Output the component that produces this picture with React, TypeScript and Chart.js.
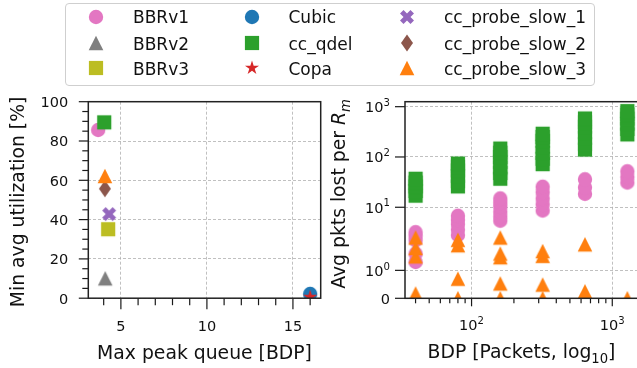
import React, { useEffect, useRef } from 'react';
import { Chart, registerables, LinearScale } from 'chart.js';

Chart.register(...registerables);

// ---------------- data ----------------
const SERIES = ['BBRv1', 'BBRv2', 'BBRv3', 'Cubic', 'cc_qdel', 'Copa', 'cc_probe_slow_1', 'cc_probe_slow_2', 'cc_probe_slow_3'];
const COLORS = ['#e377c2', '#7f7f7f', '#bcbd22', '#1f77b4', '#2ca02c', '#d62728', '#9467bd', '#8c564b', '#ff7f0e'];
const MARKERS = ['circle', 'triangle', 'square', 'circle', 'square', 'star', 'xfilled', 'thindiamond', 'triangle'];

const MAX_PEAK_QUEUE = [3.68, 4.09, 4.26, 16.0, 4.03, 16.0, 4.32, 4.07, 4.07];
const MIN_AVG_UTIL = [85.6, 10.1, 35.1, 2.2, 89.5, 0.6, 42.8, 55.7, 62.2];

const LEFT_X_TICKS = [4, 5, 6, 7, 8, 9, 10, 11, 12, 13, 14, 15, 16];
const LEFT_X_LABELED = [5, 10, 15];
const LEFT_Y_TICKS = [0, 5, 10, 15, 20, 25, 30, 35, 40, 45, 50, 55, 60, 65, 70, 75, 80, 85, 90, 95, 100];
const LEFT_Y_LABELED = [0, 20, 40, 60, 80, 100];

const BDP_PACKETS = [40, 80, 160, 320, 640, 1280];
const LOSS_CC_QDEL = [
  [17, 21, 26, 31, 37],
  [26, 33, 42, 54, 64, 74],
  [37, 48, 62, 80, 100, 122, 147],
  [72, 92, 120, 160, 210, 250, 290],
  [140, 180, 240, 310, 400, 490, 583],
  [281, 360, 460, 580, 700, 818],
];
const LOSS_BBRV1 = [
  [1.3, 1.6, 2.2, 2.7, 3.2],
  [2.8, 3.6, 4.6, 5.6, 6.8],
  [5.4, 6.6, 8.2, 10.5, 12.5, 15],
  [8.6, 11.5, 15, 20, 25.6],
  [18.5, 25, 36],
  [31, 40, 52],
];
const LOSS_PROBE_SLOW_3 = [
  [0.17, 1.5, 1.8, 2.5],
  [0, 0.7, 1.9, 2.25],
  [0, 0.53, 1.47, 1.6, 2.5],
  [0, 0.49, 1.52, 1.69],
  [0.25, 1.93],
  [0],
];

const RIGHT_X_TICKS = [40, 50, 60, 70, 80, 90, 100, 200, 300, 400, 500, 600, 700, 800, 900, 1000];
const RIGHT_X_LABELED = [100, 1000];
const RIGHT_X_LABEL_BASE = ['10', '10'];
const RIGHT_X_LABEL_EXP = ['2', '3'];
const RIGHT_Y_TICKS = [0, 1, 10, 100, 1000];
const RIGHT_Y_LABEL_BASE = ['0', '10', '10', '10', '10'];
const RIGHT_Y_LABEL_EXP = ['', '0', '1', '2', '3'];

// ---------------- styling ----------------
const FONT = "'DejaVu Sans', sans-serif";
const TEXT = '#111111';
const GRID = '#b0b0b0';
const NONE = 'rgba(0,0,0,0)';
const TICK_SIZE = 14.5;
const TITLE_SIZE = 18.8;

// ---------------- symlog scale (linthresh 2, linscale 1) ----------------
const LINTHRESH = 2;
const LINSCALE_ADJ = 1 / (1 - 1 / 10);
function symT(v: number) {
  const a = Math.abs(v);
  if (a <= LINTHRESH) return v * LINSCALE_ADJ;
  return Math.sign(v) * LINTHRESH * (LINSCALE_ADJ + Math.log10(a / LINTHRESH));
}
function symInv(t: number) {
  const a = Math.abs(t);
  if (a <= LINTHRESH * LINSCALE_ADJ) return t / LINSCALE_ADJ;
  return Math.sign(t) * LINTHRESH * Math.pow(10, a / LINTHRESH - LINSCALE_ADJ);
}

class SymLogScale extends (LinearScale as any) {
  static id = 'symlog';
  static defaults = {};
  determineDataLimits() {
    const o: any = this.options;
    this.min = o.min;
    this.max = o.max;
  }
  buildTicks() {
    return [];
  }
  configure() {
    super.configure();
    this._tMin = symT(this.min);
    this._tMax = symT(this.max);
  }
  getPixelForValue(v: number) {
    return this.getPixelForDecimal((symT(v) - this._tMin) / (this._tMax - this._tMin));
  }
  getValueForPixel(p: number) {
    return symInv(this._tMin + this.getDecimalForPixel(p) * (this._tMax - this._tMin));
  }
}
Chart.register(SymLogScale as any);

// ---------------- markers ----------------
function poly(pts: number[][]) {
  return 'M ' + pts.map((p) => p[0].toFixed(3) + ' ' + p[1].toFixed(3)).join(' L ') + ' Z';
}
function markerPath(shape: string): string {
  switch (shape) {
    case 'circle': {
      const r = 7.2;
      return `M ${r} 0 A ${r} ${r} 0 1 1 ${-r} 0 A ${r} ${r} 0 1 1 ${r} 0 Z`;
    }
    case 'square': {
      const s = 7.1;
      return poly([[-s, -s], [s, -s], [s, s], [-s, s]]);
    }
    case 'triangle': {
      const h = 7.3;
      return poly([[0, -h], [h, h], [-h, h]]);
    }
    case 'thindiamond':
      return poly([[0, -8.6], [6, 0], [0, 8.6], [-6, 0]]);
    case 'xfilled': {
      const u = 14.8 / 6;
      const base = [[-1, -3], [1, -3], [1, -1], [3, -1], [3, 1], [1, 1], [1, 3], [-1, 3], [-1, 1], [-3, 1], [-3, -1], [-1, -1]];
      const c = Math.SQRT1_2;
      return poly(base.map(([x, y]) => [(x - y) * c * u, (x + y) * c * u]));
    }
    case 'star': {
      const R = 7.4;
      const pts: number[][] = [];
      for (let k = 0; k < 10; k++) {
        const r = k % 2 ? R * 0.381966 : R;
        const ang = -Math.PI / 2 + (k * Math.PI) / 5;
        pts.push([r * Math.cos(ang), r * Math.sin(ang)]);
      }
      return poly(pts);
    }
  }
  return '';
}
function markerCanvas(shape: string, color: string) {
  const c = document.createElement('canvas');
  c.width = 24;
  c.height = 24;
  const ctx = c.getContext('2d')!;
  ctx.translate(12, 12);
  ctx.fillStyle = color;
  ctx.fill(new Path2D(markerPath(shape)));
  return c;
}

// ---------------- rich text + frame/tick plugin ----------------
type Part = { text: string; italic?: boolean; sub?: boolean; sup?: boolean };
// align: 'center' | 'right'
function drawRich(ctx: CanvasRenderingContext2D, parts: Part[], x: number, y: number, rotate: boolean, size: number, align = 'center') {
  ctx.save();
  ctx.translate(x, y);
  if (rotate) ctx.rotate(-Math.PI / 2);
  ctx.fillStyle = TEXT;
  ctx.textBaseline = 'alphabetic';
  ctx.textAlign = 'left';
  const fontOf = (p: Part) => `${p.italic ? 'italic ' : ''}${p.sub || p.sup ? size * 0.7 : size}px ${FONT}`;
  const widths = parts.map((p) => {
    ctx.font = fontOf(p);
    return ctx.measureText(p.text).width;
  });
  const total = widths.reduce((s, w) => s + w, 0);
  let cx = align === 'right' ? -total : -total / 2;
  parts.forEach((p, i) => {
    ctx.font = fontOf(p);
    const dy = p.sub ? size * 0.24 : p.sup ? -size * 0.42 : 0;
    ctx.fillText(p.text, cx, dy);
    cx += widths[i];
  });
  ctx.restore();
}

function makeFramePlugin(cfg: any) {
  return {
    id: 'axesFrame',
    afterDraw(chart: any) {
      const ctx = chart.ctx as CanvasRenderingContext2D;
      const a = chart.chartArea;
      const xs = chart.scales.x;
      const ys = chart.scales.y;
      ctx.save();
      ctx.strokeStyle = '#1a1a1a';
      ctx.lineWidth = 1.2;
      for (const t of xs.ticks) {
        const p = xs.getPixelForValue(t.value);
        const len = cfg.xIsMajor(t.value) ? cfg.xMajor : cfg.xMinor;
        ctx.beginPath();
        ctx.moveTo(p, a.bottom);
        ctx.lineTo(p, a.bottom + len);
        ctx.stroke();
      }
      for (const t of ys.ticks) {
        const p = ys.getPixelForValue(t.value);
        const len = cfg.yIsMajor(t.value) ? cfg.yMajor : cfg.yMinor;
        ctx.beginPath();
        ctx.moveTo(a.left - len, p);
        ctx.lineTo(a.left, p);
        ctx.stroke();
      }
      ctx.lineWidth = 1.5;
      ctx.strokeStyle = '#222222';
      ctx.strokeRect(a.left, a.top, a.right - a.left, a.bottom - a.top);
      for (const L of cfg.xLabels) {
        drawRich(ctx, L.parts, xs.getPixelForValue(L.value), a.bottom + cfg.xLabelBaseline, false, TICK_SIZE, 'center');
      }
      for (const L of cfg.yLabels) {
        drawRich(ctx, L.parts, a.left - cfg.yLabelPad, ys.getPixelForValue(L.value) + 5.3, false, TICK_SIZE, 'right');
      }
      for (const tt of cfg.titles) {
        drawRich(ctx, tt.parts, tt.x(a), tt.y(a), tt.rotate, TITLE_SIZE, 'center');
      }
      ctx.restore();
    },
  };
}

function gridColor(labeled: number[] | null) {
  return (c: any) => (c.tick && (!labeled || labeled.includes(c.tick.value)) ? GRID : NONE);
}

export default function App() {
  const leftRef = useRef<HTMLCanvasElement>(null);
  const rightRef = useRef<HTMLCanvasElement>(null);

  useEffect(() => {
    const images = SERIES.map((_, i) => markerCanvas(MARKERS[i], COLORS[i]));

    const left = new Chart(leftRef.current!, {
      type: 'scatter',
      data: {
        datasets: SERIES.map((name, i) => ({
          label: name,
          data: [{ x: MAX_PEAK_QUEUE[i], y: MIN_AVG_UTIL[i] }],
          pointStyle: images[i] as any,
          pointRadius: 7,
          pointHoverRadius: 7,
          backgroundColor: COLORS[i],
          borderColor: COLORS[i],
          order: SERIES.length - i,
          clip: 0,
        })),
      },
      options: {
        responsive: false,
        animation: false,
        events: [],
        layout: { autoPadding: false, padding: { left: 0, top: 101.7, right: 9.3, bottom: 0 } },
        plugins: { legend: { display: false }, tooltip: { enabled: false } },
        scales: {
          x: {
            type: 'linear',
            bounds: 'data',
            min: 3.106,
            max: 16.614,
            afterBuildTicks: (s: any) => {
              s.ticks = LEFT_X_TICKS.map((v) => ({ value: v }));
            },
            afterFit: (s: any) => {
              s.height = 368 - 298.2;
            },
            ticks: { display: false, autoSkip: false },
            grid: { drawTicks: false, lineWidth: 0.8, color: gridColor(LEFT_X_LABELED) },
            border: { display: false, dash: [3, 2] },
          },
          y: {
            type: 'linear',
            bounds: 'data',
            min: 0,
            max: 100,
            afterBuildTicks: (s: any) => {
              s.ticks = LEFT_Y_TICKS.map((v) => ({ value: v }));
            },
            afterFit: (s: any) => {
              s.width = 88.3;
            },
            ticks: { display: false, autoSkip: false },
            grid: { drawTicks: false, lineWidth: 0.8, color: gridColor(LEFT_Y_LABELED) },
            border: { display: false, dash: [3, 2] },
          },
        },
      } as any,
      plugins: [
        makeFramePlugin({
          xMajor: 11,
          xMinor: 7,
          yMajor: 9.5,
          yMinor: 6,
          xIsMajor: (v: number) => LEFT_X_LABELED.includes(v),
          yIsMajor: (v: number) => LEFT_Y_LABELED.includes(v),
          xLabelBaseline: 32.3,
          yLabelPad: 20,
          xLabels: LEFT_X_LABELED.map((v) => ({ value: v, parts: [{ text: String(v) }] })),
          yLabels: LEFT_Y_LABELED.map((v) => ({ value: v, parts: [{ text: String(v) }] })),
          titles: [
            {
              parts: [{ text: 'Max peak queue [BDP]' }],
              x: (a: any) => (a.left + a.right) / 2,
              y: () => 359.3,
              rotate: false,
            },
            {
              parts: [{ text: 'Min avg utilization [%]' }],
              x: () => 24.2,
              y: (a: any) => (a.top + a.bottom) / 2 + 2,
              rotate: true,
            },
          ],
        }),
      ],
    });

    const rightSeries = [
      { idx: 4, values: LOSS_CC_QDEL },
      { idx: 0, values: LOSS_BBRV1 },
      { idx: 8, values: LOSS_PROBE_SLOW_3 },
    ];

    const right = new Chart(rightRef.current!, {
      type: 'scatter',
      data: {
        datasets: rightSeries.map((s, k) => ({
          label: SERIES[s.idx],
          data: s.values.flatMap((vals, j) => vals.map((v) => ({ x: BDP_PACKETS[j], y: v }))),
          pointStyle: images[s.idx] as any,
          pointRadius: 7,
          pointHoverRadius: 7,
          backgroundColor: COLORS[s.idx],
          borderColor: COLORS[s.idx],
          order: rightSeries.length - k,
          clip: 0,
        })),
      },
      options: {
        responsive: false,
        animation: false,
        events: [],
        layout: { autoPadding: false, padding: { left: 0, top: 101.7, right: 320 - 307.9, bottom: 0 } },
        plugins: { legend: { display: false }, tooltip: { enabled: false } },
        scales: {
          x: {
            type: 'logarithmic',
            bounds: 'data',
            min: 33.65,
            max: 1521,
            afterBuildTicks: (s: any) => {
              s.ticks = RIGHT_X_TICKS.map((v) => ({ value: v }));
            },
            afterFit: (s: any) => {
              s.height = 368 - 298.3;
            },
            ticks: { display: false, autoSkip: false },
            grid: { drawTicks: false, lineWidth: 0.8, color: gridColor(RIGHT_X_LABELED) },
            border: { display: false, dash: [3, 2] },
          },
          y: {
            type: 'symlog',
            min: 0,
            max: 1256,
            afterBuildTicks: (s: any) => {
              s.ticks = RIGHT_Y_TICKS.map((v) => ({ value: v }));
            },
            afterFit: (s: any) => {
              s.width = 75;
            },
            ticks: { display: false, autoSkip: false },
            grid: { drawTicks: false, lineWidth: 0.8, color: gridColor(null) },
            border: { display: false, dash: [3, 2] },
          },
        },
      } as any,
      plugins: [
        makeFramePlugin({
          xMajor: 8,
          xMinor: 5,
          yMajor: 10,
          yMinor: 5,
          xIsMajor: (v: number) => RIGHT_X_LABELED.includes(v),
          yIsMajor: () => true,
          xLabelBaseline: 31.7,
          yLabelPad: 15,
          xLabels: RIGHT_X_LABELED.map((v, i) => ({
            value: v,
            parts: [{ text: RIGHT_X_LABEL_BASE[i] }, { text: RIGHT_X_LABEL_EXP[i], sup: true }],
          })),
          yLabels: RIGHT_Y_TICKS.map((v, i) => ({
            value: v,
            parts: RIGHT_Y_LABEL_EXP[i]
              ? [{ text: RIGHT_Y_LABEL_BASE[i] }, { text: RIGHT_Y_LABEL_EXP[i], sup: true }]
              : [{ text: RIGHT_Y_LABEL_BASE[i] }],
          })),
          titles: [
            {
              parts: [{ text: 'BDP [Packets, log' }, { text: '10', sub: true }, { text: ']' }],
              x: (a: any) => (a.left + a.right) / 2,
              y: () => 358.3,
              rotate: false,
            },
            {
              parts: [{ text: 'Avg pkts lost per ' }, { text: 'R', italic: true }, { text: 'm', italic: true, sub: true }],
              x: () => 15.2,
              y: (a: any) => (a.top + a.bottom) / 2 - 6,
              rotate: true,
            },
          ],
        }),
      ],
    });

    return () => {
      left.destroy();
      right.destroy();
    };
  }, []);

  const colX = [96, 252, 407];
  const textX = [133, 288.5, 444];
  const rowY = [16.7, 43.3, 68.3];

  return (
    <div style={{ position: 'absolute', left: 0, top: 0, width: 637, height: 368, overflow: 'hidden', background: '#ffffff' }}>
      <canvas ref={leftRef} width={330} height={368} style={{ position: 'absolute', left: 0, top: 0 }} />
      <canvas ref={rightRef} width={320} height={368} style={{ position: 'absolute', left: 330, top: 0 }} />
      <div
        style={{
          position: 'absolute',
          left: 65,
          top: 3,
          width: 530,
          height: 82.5,
          border: '1.5px solid #cfcfcf',
          borderRadius: 4,
          boxSizing: 'border-box',
          background: 'rgba(255,255,255,0.9)',
        }}
      />
      {SERIES.map((name, i) => {
        const col = Math.floor(i / 3);
        const row = i % 3;
        return (
          <React.Fragment key={name}>
            <svg
              width={24}
              height={24}
              viewBox="-12 -12 24 24"
              style={{ position: 'absolute', left: colX[col] - 12, top: rowY[row] - 12 }}
            >
              <path d={markerPath(MARKERS[i])} fill={COLORS[i]} />
            </svg>
            <div
              style={{
                position: 'absolute',
                left: textX[col],
                top: rowY[row] - 9.7,
                fontFamily: FONT,
                fontSize: 17,
                lineHeight: '20px',
                color: TEXT,
                whiteSpace: 'nowrap',
              }}
            >
              {name}
            </div>
          </React.Fragment>
        );
      })}
    </div>
  );
}
